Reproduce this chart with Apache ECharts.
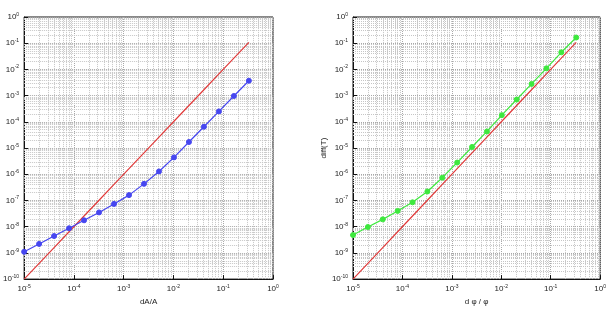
<!DOCTYPE html>
<html>
<head>
<meta charset="utf-8">
<style>
  html, body { margin: 0; padding: 0; background: #fff; }
  #chart { width: 609px; height: 311px; }
</style>
<script src="https://cdn.jsdelivr.net/npm/echarts@6/dist/echarts.min.js"></script>
</head>
<body>
<div id="chart"></div>
<script>
// step sizes (shared by both panels), doubling from 1e-5
const steps = [1e-5, 2e-5, 4e-5, 8e-5, 1.6e-4, 3.2e-4, 6.4e-4, 1.28e-3,
  2.56e-3, 5.12e-3, 1.024e-2, 2.048e-2, 4.096e-2, 8.192e-2, 0.16384, 0.32768];

// left panel: error vs dA/A
const errArea = [1.1e-9, 2.2e-9, 4.4e-9, 8.7e-9, 1.75e-8, 3.5e-8, 7.4e-8, 1.6e-7,
  4.3e-7, 1.28e-6, 4.4e-6, 1.7e-5, 6.5e-5, 2.5e-4, 9.7e-4, 3.7e-3];

// right panel: diff(T) vs dphi/phi
const errPhi = [4.8e-9, 9.7e-9, 1.9e-8, 4.0e-8, 8.5e-8, 2.2e-7, 7.4e-7, 2.8e-6,
  1.1e-5, 4.3e-5, 1.8e-4, 7.1e-4, 2.8e-3, 1.1e-2, 4.5e-2, 0.165];

// second-order reference slope (red line)
const slope2 = [1e-10, 4e-10, 1.6e-9, 6.4e-9, 2.56e-8, 1.02e-7, 4.1e-7, 1.64e-6,
  6.55e-6, 2.62e-5, 1.05e-4, 4.19e-4, 1.68e-3, 6.71e-3, 2.68e-2, 0.107];

const xLabel = ['dA/A', 'd φ / φ'];
const yLabel = ['', 'diff(T)'];

const BLUE = '#4646f0';
const GREEN = '#3ee83e';
const RED = '#e03a3a';
const TEXT = '#222';

function pairs(xs, ys) {
  return xs.map((x, i) => [x, ys[i]]);
}

function powLabel(v) {
  const e = Math.round(Math.log10(v));
  return '{b|10}{s|' + e + '}';
}

const labelRich = {
  b: { fontSize: 8, color: TEXT, fontFamily: 'Liberation Sans' },
  s: { fontSize: 5, color: TEXT, fontFamily: 'Liberation Sans', verticalAlign: 'top', padding: [0, 0, 5, 0] },
};

// minor log grid lines at 2..9 x 10^k, drawn as plain segments across the plot
function minorGrid(xLo, xHi, yLo, yHi) {
  const segs = [];
  for (let e = xLo; e < xHi; e++) {
    for (let m = 2; m <= 9; m++) {
      const v = m * Math.pow(10, e);
      segs.push({ coords: [[v, Math.pow(10, yLo)], [v, Math.pow(10, yHi)]] });
    }
  }
  for (let e = yLo; e < yHi; e++) {
    for (let m = 2; m <= 9; m++) {
      const v = m * Math.pow(10, e);
      segs.push({ coords: [[Math.pow(10, xLo), v], [Math.pow(10, xHi), v]] });
    }
  }
  return segs;
}

const grids = [
  { left: 20, top: 17, width: 253, height: 272 },
  { left: 353, top: 17, width: 252, height: 272 },
];

const xAxes = grids.map((g, i) => ({
  type: 'log', logBase: 10, gridIndex: i, min: 1e-5, max: 1, interval: 1,
  name: xLabel[i], nameLocation: 'middle', nameGap: 16,
  nameTextStyle: { fontSize: 8, color: TEXT, fontFamily: 'Liberation Sans' },
  axisLine: { show: true, lineStyle: { color: '#111', width: 1 } },
  axisTick: { show: true, inside: true, length: 4, lineStyle: { color: '#111' } },
  axisLabel: { formatter: powLabel, rich: labelRich, margin: 5 },
  splitLine: { show: true, lineStyle: { color: '#a8a8a8', type: 'dotted', width: 1 } },
}));

const yAxes = grids.map((g, i) => ({
  type: 'log', logBase: 10, gridIndex: i, min: 1e-10, max: 1, interval: 1,
  name: yLabel[i], nameLocation: 'middle', nameGap: 24, nameRotate: 90,
  nameTextStyle: { fontSize: 8, color: TEXT, fontFamily: 'Liberation Sans' },
  axisLine: { show: true, lineStyle: { color: '#111', width: 1 } },
  axisTick: { show: true, inside: true, length: 4, lineStyle: { color: '#111' } },
  axisLabel: { formatter: powLabel, rich: labelRich, margin: 5 },
  splitLine: { show: true, lineStyle: { color: '#a8a8a8', type: 'dotted', width: 1 } },
}));

function gridSeries(i) {
  return {
    type: 'lines', coordinateSystem: 'cartesian2d', xAxisIndex: i, yAxisIndex: i,
    silent: true, polyline: false, z: 1,
    lineStyle: { color: '#c6c6c6', type: 'dotted', width: 1, opacity: 1 },
    data: minorGrid(-5, 0, -10, 0),
  };
}

function refSeries(i) {
  return {
    type: 'line', xAxisIndex: i, yAxisIndex: i,
    data: pairs(steps, slope2), symbol: 'none',
    lineStyle: { color: RED, width: 1.2 }, z: 3,
  };
}

function dataSeries(i, ys, color) {
  return {
    type: 'line', xAxisIndex: i, yAxisIndex: i,
    data: pairs(steps, ys), symbol: 'circle', symbolSize: 5,
    lineStyle: { color: color, width: 1.2 },
    itemStyle: { color: color, opacity: 1, borderColor: color, borderWidth: 1 },
    z: 4,
  };
}

const chart = echarts.init(document.getElementById('chart'), null, { renderer: 'canvas' });
chart.setOption({
  animation: false,
  backgroundColor: '#fff',
  grid: grids.map(g => Object.assign({ show: true, borderColor: '#111', borderWidth: 1 }, g)),
  xAxis: xAxes,
  yAxis: yAxes,
  series: [
    gridSeries(0),
    refSeries(0),
    dataSeries(0, errArea, BLUE),
    gridSeries(1),
    refSeries(1),
    dataSeries(1, errPhi, GREEN),
  ],
});
</script>
</body>
</html>
